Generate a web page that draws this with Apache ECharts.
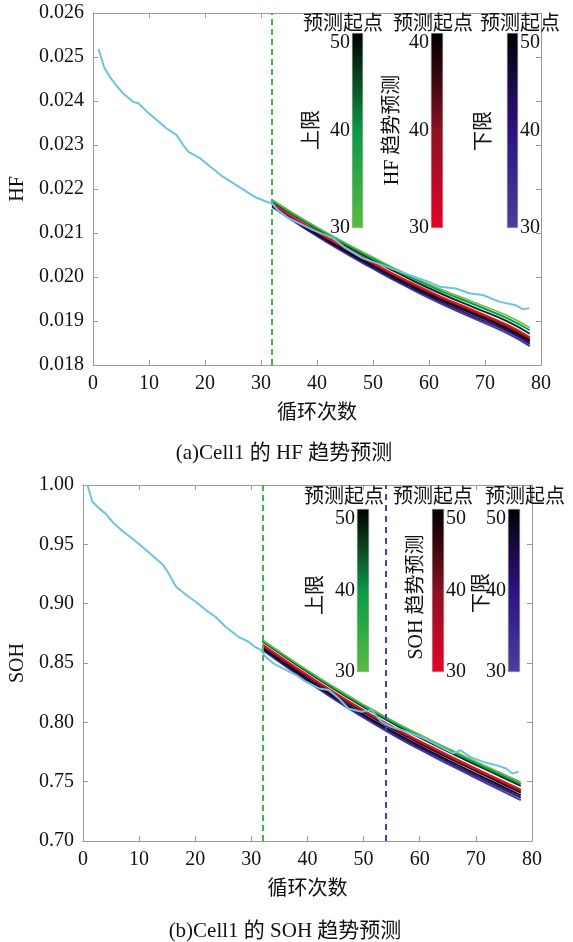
<!DOCTYPE html>
<html><head><meta charset="utf-8">
<script src="https://cdn.jsdelivr.net/npm/echarts@6/dist/echarts.min.js"></script>
<style>html,body{margin:0;padding:0;background:#fff}#c{width:573px;height:942px}</style>
</head><body><div id="c"></div>
<script>
// ---------- data ----------
const hfCycles = [1, 2, 3, 4, 5.4, 7.2, 8.1, 9.6, 11.4, 13.1, 14.9, 16.1, 17, 19.1, 20.9, 23.2, 25.6, 27.4, 29.2, 31, 32, 33, 35.1, 37.5, 39.2, 42.8, 45.2, 48.1, 51.7, 55.3, 57.7, 60, 61.9, 64.8, 67.2, 69.6, 72.5, 75.5, 76.7, 77.9];
const hfValues = [0.02518, 0.02476, 0.02455, 0.02438, 0.02417, 0.02398, 0.02395, 0.02376, 0.02357, 0.02338, 0.02323, 0.02300, 0.02285, 0.02270, 0.02251, 0.02228, 0.02209, 0.02194, 0.02180, 0.02171, 0.02167, 0.02152, 0.02133, 0.02118, 0.02107, 0.02089, 0.02065, 0.02043, 0.02027, 0.02010, 0.01999, 0.01989, 0.01978, 0.01974, 0.01963, 0.01959, 0.01944, 0.01936, 0.01927, 0.01929];

const sohCycles = [0.8, 1.7, 2.9, 4, 5.5, 7.2, 8.4, 10.2, 11.9, 14.3, 15.1, 16.6, 18.4, 20.1, 21.9, 23.6, 25.4, 27.7, 29.5, 30.6, 31.8, 32.4, 33.9, 35.6, 38, 39.7, 42.1, 43.8, 45.6, 47.3, 49.6, 51.4, 53.2, 54.9, 57.8, 60.8, 63.7, 66, 67.2, 69, 71.3, 73.6, 75.4, 76.5, 77.6];
const sohValues = [1.0, 0.9859, 0.9803, 0.9761, 0.9677, 0.9606, 0.9564, 0.9494, 0.9424, 0.9325, 0.9269, 0.9143, 0.9073, 0.9016, 0.8946, 0.8890, 0.8805, 0.8721, 0.8679, 0.8637, 0.8609, 0.8560, 0.8497, 0.8454, 0.8398, 0.8342, 0.8286, 0.8272, 0.8201, 0.8117, 0.8089, 0.8103, 0.8004, 0.7962, 0.7920, 0.7864, 0.7794, 0.7738, 0.7766, 0.7709, 0.7667, 0.7639, 0.7611, 0.7569, 0.7583];

const predCycles = [32, 38, 44, 50, 56, 62, 68, 74, 78];

const hfUpper30 = [0.02175, 0.02128, 0.02085, 0.02045, 0.02007, 0.01973, 0.01943, 0.01912, 0.01885];
const hfUpper40 = [0.02174, 0.02126, 0.02083, 0.02042, 0.02004, 0.01969, 0.01938, 0.01906, 0.01879];
const hfUpper50 = [0.02172, 0.02124, 0.02079, 0.02038, 0.01999, 0.01963, 0.01931, 0.01899, 0.01871];
const hfTrend30 = [0.02167, 0.02118, 0.02074, 0.02032, 0.01992, 0.01956, 0.01924, 0.01891, 0.01863];
const hfTrend40 = [0.02166, 0.02117, 0.02072, 0.02030, 0.01990, 0.01954, 0.01921, 0.01888, 0.01860];
const hfTrend50 = [0.02165, 0.02116, 0.02070, 0.02028, 0.01987, 0.01951, 0.01918, 0.01884, 0.01856];
const hfLower50 = [0.02162, 0.02113, 0.02067, 0.02025, 0.01984, 0.01948, 0.01915, 0.01881, 0.01853];
const hfLower40 = [0.02161, 0.02111, 0.02065, 0.02022, 0.01981, 0.01944, 0.01910, 0.01877, 0.01848];
const hfLower30 = [0.02159, 0.02109, 0.02062, 0.02019, 0.01978, 0.01940, 0.01906, 0.01872, 0.01843];

const sohUpper30 = [0.8693, 0.8502, 0.8320, 0.8150, 0.7993, 0.7850, 0.7715, 0.7584, 0.7497];
const sohUpper40 = [0.8688, 0.8496, 0.8312, 0.8141, 0.7982, 0.7839, 0.7702, 0.7570, 0.7482];
const sohUpper50 = [0.8682, 0.8489, 0.8303, 0.8131, 0.7971, 0.7825, 0.7687, 0.7554, 0.7465];
const sohTrend30 = [0.8655, 0.8461, 0.8275, 0.8102, 0.7941, 0.7795, 0.7655, 0.7521, 0.7432];
const sohTrend40 = [0.8650, 0.8455, 0.8268, 0.8094, 0.7932, 0.7785, 0.7645, 0.7510, 0.7420];
const sohTrend50 = [0.8645, 0.8449, 0.8261, 0.8086, 0.7923, 0.7775, 0.7635, 0.7499, 0.7408];
const sohLower50 = [0.8625, 0.8429, 0.8240, 0.8065, 0.7902, 0.7753, 0.7612, 0.7476, 0.7385];
const sohLower40 = [0.8618, 0.8420, 0.8230, 0.8053, 0.7888, 0.7738, 0.7595, 0.7457, 0.7365];
const sohLower30 = [0.8610, 0.8410, 0.8219, 0.8040, 0.7874, 0.7722, 0.7578, 0.7438, 0.7345];

const hfStartLine = 32;
const sohStartLine = 32;
const sohMarkLine = 54;

// colorbar tick labels (value 30 / 40 / 50)
const barRange = [30, 50];
const hfUpperBarLabels = ['30', '40', '50'];
const hfTrendBarLabels = ['30', '40', '40'];
const hfLowerBarLabels = ['30', '40', '50'];
const sohUpperBarLabels = ['30', '40', '50'];
const sohTrendBarLabels = ['30', '40', '50'];
const sohLowerBarLabels = ['30', '40', '50'];

const xLabelName = '循环次数';
const captionA = '(a)Cell1 的 HF 趋势预测';
const captionB = '(b)Cell1 的 SOH 趋势预测';

// ---------- styles ----------
const FONT = '"Liberation Serif", "DejaVu Serif", "Noto Sans CJK SC", serif';
const AX = '#9a9a9a';
const TXT = '#111';

const G_UP = ['#5cbf45', '#0f9a48', '#07361a'];
const G_TR = ['#e0102e', '#8c1020', '#1a0508'];
const G_LO = ['#463c9c', '#2e1585', '#0d0828'];

const grids = [
  {left: 93, top: 13, width: 448, height: 352},
  {left: 77, top: 485, width: 455, height: 356},
  {left: 352, top: 33, width: 11, height: 195},
  {left: 431, top: 33, width: 12, height: 195},
  {left: 507, top: 33, width: 11, height: 195},
  {left: 357, top: 509, width: 12, height: 163},
  {left: 432, top: 509, width: 12, height: 163},
  {left: 508, top: 509, width: 12, height: 163}
];

function mainX(gi, pos, withLabels) {
  return {
    type: 'value', gridIndex: gi, position: pos, min: 0, max: 80, interval: 10,
    axisLine: {show: true, onZero: false, lineStyle: {color: AX, width: 1}},
    axisTick: {show: true, inside: true, length: 5, lineStyle: {color: AX}},
    splitLine: {show: false},
    axisLabel: {show: withLabels, fontFamily: FONT, fontSize: 20, color: TXT, margin: 9},
    name: withLabels ? xLabelName : '', nameLocation: 'middle', nameGap: 39,
    nameTextStyle: {fontFamily: FONT, fontSize: 20, color: TXT}
  };
}
function mainY(gi, pos, min, max, interval, digits, name, gap) {
  return {
    type: 'value', gridIndex: gi, position: pos, min: min, max: max, interval: interval,
    axisLine: {show: true, onZero: false, lineStyle: {color: AX, width: 1}},
    axisTick: {show: true, inside: true, length: 5, lineStyle: {color: AX}},
    splitLine: {show: false},
    axisLabel: {show: pos === 'left', fontFamily: FONT, fontSize: 20, color: TXT, margin: 9,
      formatter: v => v.toFixed(digits)},
    name: pos === 'left' ? name : '', nameLocation: 'middle', nameGap: gap, nameRotate: 90,
    nameTextStyle: {fontFamily: FONT, fontSize: 20, color: TXT}
  };
}
function barX(gi) {
  return {type: 'category', gridIndex: gi, data: [''], show: false};
}
function barY(gi, pos, labels) {
  return {
    type: 'value', gridIndex: gi, position: pos, min: barRange[0], max: barRange[1], interval: 10,
    axisLine: {show: false}, axisTick: {show: false}, splitLine: {show: false},
    axisLabel: {show: true, fontFamily: FONT, fontSize: 20, color: TXT, margin: 2,
      verticalAlignMaxLabel: 'top',
      formatter: v => labels[Math.round((v - barRange[0]) / 10)]}
  };
}

const xAxis = [
  mainX(0, 'bottom', true), mainX(0, 'top', false),
  mainX(1, 'bottom', true), mainX(1, 'top', false),
  barX(2), barX(3), barX(4), barX(5), barX(6), barX(7)
];
const yAxis = [
  mainY(0, 'left', 0.018, 0.026, 0.001, 3, 'HF', 61), mainY(0, 'right', 0.018, 0.026, 0.001, 3, '', 0),
  mainY(1, 'left', 0.70, 1.00, 0.05, 2, 'SOH', 52), mainY(1, 'right', 0.70, 1.00, 0.05, 2, '', 0),
  barY(2, 'left', hfUpperBarLabels), barY(3, 'left', hfTrendBarLabels), barY(4, 'right', hfLowerBarLabels),
  barY(5, 'left', sohUpperBarLabels), barY(6, 'right', sohTrendBarLabels), barY(7, 'left', sohLowerBarLabels)
];

function zip(xs, ys) { return xs.map((x, i) => [x, ys[i]]); }
function predLine(ys, color, xi, yi, w) {
  return {type: 'line', xAxisIndex: xi, yAxisIndex: yi, data: zip(predCycles, ys), smooth: true,
    showSymbol: false, symbol: 'none', silent: true, z: 3,
    lineStyle: {color: color, width: w || 2}};
}
function grad(stops) {
  return new echarts.graphic.LinearGradient(0, 0, 0, 1, stops.map(s => ({offset: s[0], color: s[1]})));
}
const GRAD_G = grad([[0, '#000000'], [0.25, '#0a4a22'], [0.5, '#0c9848'], [1, '#56bd3e']]);
const GRAD_R = grad([[0, '#000000'], [0.25, '#3e0810'], [0.5, '#8c1222'], [1, '#e6002b']]);
const GRAD_P = grad([[0, '#000000'], [0.25, '#1a0a44'], [0.5, '#2c1282'], [1, '#4a3f9e']]);
function colorBar(bi, g) {
  const ai = bi + 4;
  return [
    {type: 'bar', xAxisIndex: ai, yAxisIndex: ai, stack: 'cb' + bi, data: [barRange[0]],
      barWidth: '100%', itemStyle: {color: 'rgba(0,0,0,0)'}, silent: true},
    {type: 'bar', xAxisIndex: ai, yAxisIndex: ai, stack: 'cb' + bi, data: [barRange[1] - barRange[0]],
      barWidth: '100%', itemStyle: {color: g, borderColor: '#999', borderWidth: 0.5}, silent: true}
  ];
}

const series = [
  // HF predictions
  predLine(hfLower30, G_LO[0], 0, 0), predLine(hfLower40, G_LO[1], 0, 0), predLine(hfLower50, G_LO[2], 0, 0),
  predLine(hfTrend50, G_TR[2], 0, 0), predLine(hfTrend40, G_TR[1], 0, 0), predLine(hfTrend30, G_TR[0], 0, 0),
  predLine(hfUpper50, G_UP[2], 0, 0), predLine(hfUpper40, G_UP[1], 0, 0), predLine(hfUpper30, G_UP[0], 0, 0, 1.5),
  {type: 'line', xAxisIndex: 0, yAxisIndex: 0, data: zip(hfCycles, hfValues), showSymbol: false, symbol: 'none',
    silent: true, z: 5, lineStyle: {color: '#6ec3dd', width: 2},
    markLine: {silent: true, symbol: ['none', 'none'], label: {show: false}, animation: false,
      lineStyle: {type: [6, 4], width: 2, color: '#3cb83c'},
      data: [{xAxis: hfStartLine}]}},
  // SOH predictions
  predLine(sohLower30, G_LO[0], 2, 2), predLine(sohLower40, G_LO[1], 2, 2), predLine(sohLower50, G_LO[2], 2, 2),
  predLine(sohTrend50, G_TR[2], 2, 2), predLine(sohTrend40, G_TR[1], 2, 2), predLine(sohTrend30, G_TR[0], 2, 2),
  predLine(sohUpper50, G_UP[2], 2, 2), predLine(sohUpper40, G_UP[1], 2, 2), predLine(sohUpper30, G_UP[0], 2, 2, 1.5),
  {type: 'line', xAxisIndex: 2, yAxisIndex: 2, data: zip(sohCycles, sohValues), showSymbol: false, symbol: 'none',
    silent: true, z: 5, lineStyle: {color: '#6ec3dd', width: 2},
    markLine: {silent: true, symbol: ['none', 'none'], label: {show: false}, animation: false,
      lineStyle: {type: [6, 4], width: 2},
      data: [{xAxis: sohStartLine, lineStyle: {color: '#3cb83c'}},
             {xAxis: sohMarkLine, lineStyle: {color: '#4a3fa8', type: [6, 5]}}]}}
].concat(colorBar(0, GRAD_G), colorBar(1, GRAD_R), colorBar(2, GRAD_P),
         colorBar(3, GRAD_G), colorBar(4, GRAD_R), colorBar(5, GRAD_P));

function txt(s, x, y, opt) {
  opt = opt || {};
  return {type: 'text', x: x, y: y, rotation: opt.rot || 0, silent: true, z: 10,
    style: {text: s, fill: TXT, fontFamily: FONT, fontSize: opt.size || 20,
      align: 'center', verticalAlign: 'middle'}};
}
const R = Math.PI / 2;
const graphic = [
  txt('预测起点', 343, 25), txt('预测起点', 433, 25), txt('预测起点', 520, 25),
  txt('上限', 313, 130, {rot: R}), txt('HF 趋势预测', 393, 130, {rot: R}), txt('下限', 485, 131, {rot: R}),
  txt('预测起点', 344, 498), txt('预测起点', 433, 498), txt('预测起点', 525, 498),
  txt('上限', 317, 595, {rot: R}), txt('SOH 趋势预测', 417, 597, {rot: R}), txt('下限', 483, 593, {rot: R}),
  txt(captionA, 284, 453, {size: 21}), txt(captionB, 285, 931, {size: 21})
];

const chart = echarts.init(document.getElementById('c'), null, {renderer: 'canvas'});
chart.setOption({
  animation: false, backgroundColor: '#fff',
  grid: grids, xAxis: xAxis, yAxis: yAxis, series: series, graphic: graphic
});
</script></body></html>
